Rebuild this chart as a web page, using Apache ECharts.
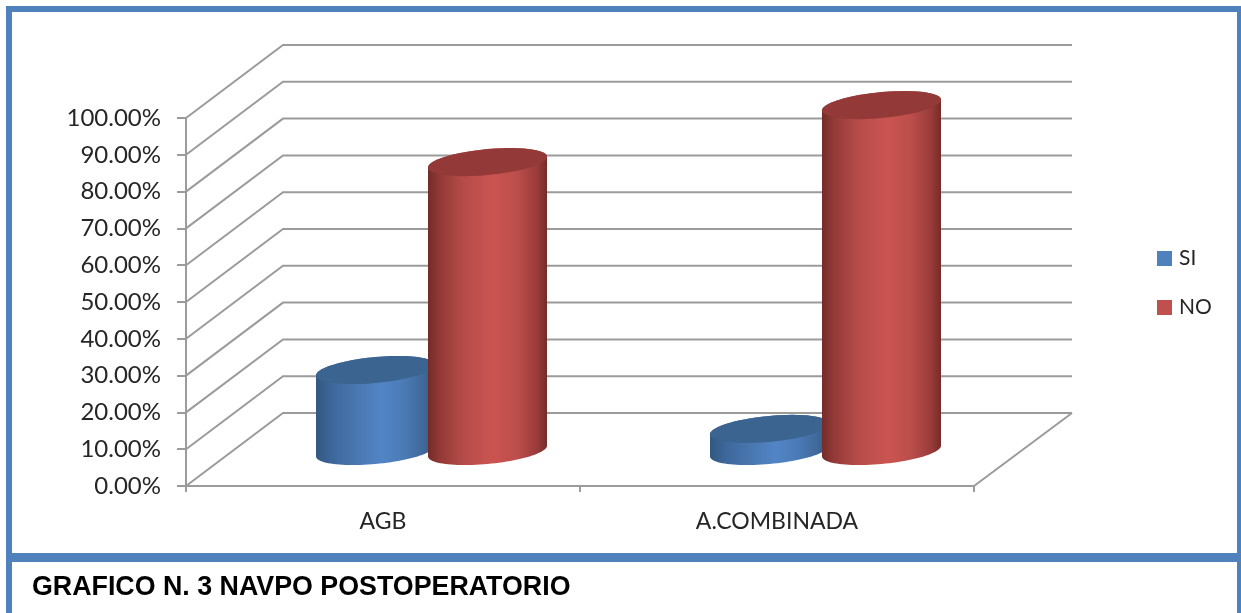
<!DOCTYPE html>
<html>
<head>
<meta charset="utf-8">
<style>html,body{margin:0;padding:0;background:#fff}#chart{width:1241px;height:613px}</style>
<script src="https://cdn.jsdelivr.net/npm/echarts@6/dist/echarts.min.js"></script>
</head>
<body>
<div id="chart"></div>
<script>
// NAVPO postoperatorio por tipo de anestesia
const categories = ['AGB', 'A.COMBINADA'];
const siValues = [22, 6];
const noValues = [78.5, 94];
const yTicks = [0, 10, 20, 30, 40, 50, 60, 70, 80, 90, 100];

// Oblique projection of the floor depth
const DEPTH_X = 97, DEPTH_Y = -73;
const RADIUS = 59.5, CAP_B = 13, TILT = 0.09, GAP = 56, BASE_DROP = 1.5;
const AXIS_GREY = '#9b9b9b';

const blueRamp = [[0, '#33587f'], [0.14, '#3d689c'], [0.32, '#4875ae'], [0.55, '#5285c6'], [0.72, '#4c7cb8'], [0.9, '#40699b'], [1, '#32577e']];
const redRamp = [[0, '#732c2a'], [0.1, '#933936'], [0.3, '#b54c49'], [0.55, '#cb5451'], [0.75, '#bb4e4b'], [0.92, '#983b39'], [1, '#732c2a']];

function ellipsePoint(cx, cy, t) {
  return [cx + RADIUS * Math.cos(t), cy + CAP_B * Math.sin(t) - TILT * RADIUS * Math.cos(t)];
}

function arc(cx, cy, from, to) {
  const pts = [];
  for (let i = 0; i <= 48; i++) pts.push(ellipsePoint(cx, cy, from + (to - from) * i / 48));
  return pts;
}

function cylinderRenderer(offset, ramp, capColor) {
  return function (params, api) {
    const base = api.coord([api.value(0), 0]);
    const top = api.coord([api.value(0), api.value(1)]);
    const cx = base[0] + DEPTH_X / 2 + offset;
    const yBase = base[1] + DEPTH_Y / 2 + BASE_DROP;
    const yTop = top[1] + DEPTH_Y / 2 + BASE_DROP;
    // lower half of the base runs right-to-left, then the rear half of the top closes it
    const outline = arc(cx, yBase, 0, Math.PI)
      .concat(arc(cx, yTop, Math.PI, 2 * Math.PI));
    return {
      type: 'group',
      children: [
        {
          type: 'polygon',
          shape: { points: outline },
          style: {
            fill: new echarts.graphic.LinearGradient(0, 0, 1, 0,
              ramp.map(s => ({ offset: s[0], color: s[1] })))
          }
        },
        {
          type: 'polygon',
          shape: { points: arc(cx, yTop, 0, 2 * Math.PI) },
          style: { fill: capColor }
        }
      ]
    };
  };
}

// Back wall, side wall and floor rules
function wallRenderer(params, api) {
  const sys = params.coordSys;
  const y = api.coord([0, api.value(0)])[1];
  const x0 = sys.x, x1 = sys.x + sys.width;
  const style = { stroke: AXIS_GREY, lineWidth: 2, fill: null };
  const kids = [{
    type: 'polyline',
    shape: { points: [[x0, y], [x0 + DEPTH_X, y + DEPTH_Y], [x1 + DEPTH_X + 1, y + DEPTH_Y]] },
    style
  }];
  if (api.value(0) === 0) {
    kids.push({ type: 'line', shape: { x1: x1, y1: y, x2: x1 + DEPTH_X + 1, y2: y + DEPTH_Y }, style });
  }
  return { type: 'group', children: kids };
}

const chart = echarts.init(document.getElementById('chart'), null, { renderer: 'canvas' });
const LABEL_FONT = 'Lato';
const LABEL_COLOR = '#262626';

chart.setOption({
  animation: false,
  backgroundColor: '#ffffff',
  title: {
    text: 'GRAFICO N. 3 NAVPO POSTOPERATORIO',
    left: 27, top: 569,
    textStyle: { fontFamily: 'Liberation Sans', fontWeight: 'bold', fontSize: 26.8, color: '#000' }
  },
  legend: {
    orient: 'vertical',
    left: 1152, top: 243,
    itemWidth: 15, itemHeight: 15, itemGap: 28,
    icon: 'rect',
    data: ['SI', 'NO'],
    textStyle: { fontFamily: LABEL_FONT, fontSize: 21, color: LABEL_COLOR, padding: [0, 0, 0, 2] }
  },
  grid: { left: 186, top: 118, width: 788, height: 368, containLabel: false },
  xAxis: {
    type: 'category',
    data: categories,
    boundaryGap: true,
    axisLine: { lineStyle: { color: AXIS_GREY, width: 2 } },
    axisTick: { show: true, length: 6, lineStyle: { color: AXIS_GREY, width: 2 } },
    axisLabel: { fontFamily: LABEL_FONT, fontSize: 23, color: LABEL_COLOR, margin: 24 }
  },
  yAxis: {
    type: 'value', min: 0, max: 100, interval: 10,
    axisLine: { show: true, lineStyle: { color: AXIS_GREY, width: 2 } },
    axisTick: { show: true, length: 9, lineStyle: { color: AXIS_GREY, width: 2 } },
    splitLine: { show: false },
    axisLabel: {
      fontFamily: LABEL_FONT, fontSize: 24, color: LABEL_COLOR, margin: 25,
      formatter: v => v.toFixed(2) + '%'
    }
  },
  series: [
    {
      type: 'custom', name: 'wall', silent: true, z: 1,
      data: yTicks.map(v => [v]),
      encode: { y: 0 },
      renderItem: wallRenderer
    },
    {
      type: 'custom', name: 'SI', z: 2,
      itemStyle: { color: '#4f81bd' },
      data: siValues.map((v, i) => [i, v]),
      encode: { x: 0, y: 1 },
      renderItem: cylinderRenderer(-GAP, blueRamp, '#3c6491')
    },
    {
      type: 'custom', name: 'NO', z: 3,
      itemStyle: { color: '#c0504d' },
      data: noValues.map((v, i) => [i, v]),
      encode: { x: 0, y: 1 },
      renderItem: cylinderRenderer(GAP, redRamp, '#933a38')
    }
  ],
  graphic: [
    // Outer frame and the rule above the caption
    { type: 'rect', z: 100, shape: { x: 6, y: 6, width: 6, height: 607 }, style: { fill: '#4f81bd' } },
    { type: 'rect', z: 100, shape: { x: 6, y: 6, width: 1235, height: 6 }, style: { fill: '#4f81bd' } },
    { type: 'rect', z: 100, shape: { x: 1237, y: 6, width: 4, height: 607 }, style: { fill: '#4f81bd' } },
    { type: 'rect', z: 100, shape: { x: 6, y: 553, width: 1235, height: 9 }, style: { fill: '#4f81bd' } }
  ]
});
</script>
</body>
</html>
